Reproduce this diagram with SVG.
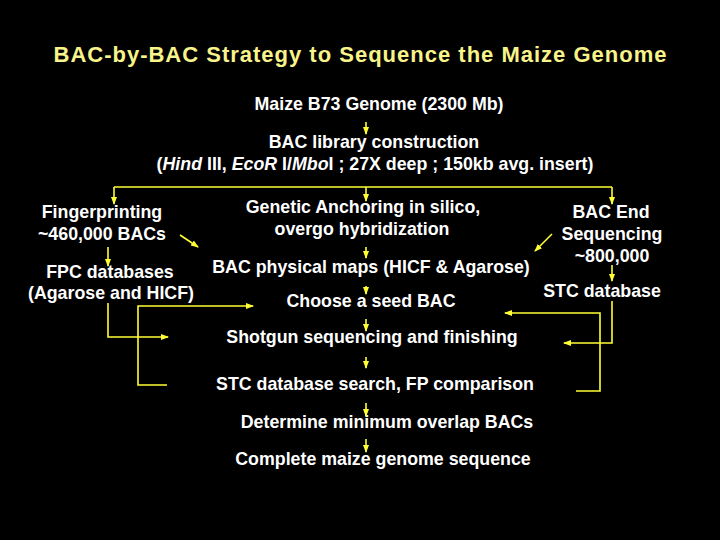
<svg xmlns="http://www.w3.org/2000/svg" width="720" height="540" viewBox="0 0 720 540">
<style>
.t{font-family:"Liberation Sans",Arial,sans-serif;font-weight:bold;font-size:17.8px;fill:#ffffff;text-anchor:middle}
.title{font-family:"Liberation Sans",Arial,sans-serif;font-weight:bold;font-size:22px;fill:#f8f48a;text-anchor:middle}
.c{stroke:#ffff33;stroke-width:1.6;fill:none}
.a{marker-end:url(#ah)}
</style>
<defs>
<marker id="ah" markerWidth="8" markerHeight="8" refX="7" refY="4" orient="auto" markerUnits="userSpaceOnUse">
<path d="M0,1 L8,4 L0,7 Z" fill="#ffff33"/>
</marker>
</defs>
<rect width="720" height="540" fill="#000"/>
<text class="title" x="360" y="62" textLength="613" lengthAdjust="spacing">BAC-by-BAC Strategy to Sequence the Maize Genome</text>

<g id="genome"><text class="t" x="379" y="110">Maize B73 Genome (2300 Mb)</text></g>
<g id="library"><text class="t" x="374" y="148">BAC library construction</text>
<text class="t" x="375" y="170">(<tspan font-style="italic">Hind</tspan> III, <tspan font-style="italic">Eco</tspan><tspan font-style="italic">R</tspan> I/<tspan font-style="italic">Mbo</tspan>I ; 27X deep ; 150kb avg. insert)</text></g>
<g id="fingerprinting"><text class="t" x="102" y="218">Fingerprinting</text><text class="t" x="102" y="240">~460,000 BACs</text></g>
<g id="fpc"><text class="t" x="110" y="278">FPC databases</text><text class="t" x="111" y="299">(Agarose and HICF)</text></g>
<g id="anchoring"><text class="t" x="363" y="213">Genetic Anchoring in silico,</text><text class="t" x="362" y="235">overgo hybridization</text></g>
<g id="physmaps"><text class="t" x="371" y="273">BAC physical maps (HICF &amp; Agarose)</text></g>
<g id="seed"><text class="t" x="371" y="307">Choose a seed BAC</text></g>
<g id="shotgun"><text class="t" x="372" y="343">Shotgun sequencing and finishing</text></g>
<g id="search"><text class="t" x="375" y="390">STC database search, FP comparison</text></g>
<g id="overlap"><text class="t" x="387" y="428">Determine minimum overlap BACs</text></g>
<g id="complete"><text class="t" x="383" y="465">Complete maize genome sequence</text></g>
<g id="bacend"><text class="t" x="611" y="218">BAC End</text><text class="t" x="612" y="240">Sequencing</text><text class="t" x="612" y="262">~800,000</text></g>
<g id="stcdb"><text class="t" x="602" y="297">STC database</text></g>

<g id="connectors">
<path class="c a" d="M366,122 V134"/>
<path class="c" d="M114,187 H612"/>
<path class="c a" d="M114,187 V204"/>
<path class="c a" d="M366,187 V201"/>
<path class="c a" d="M612,187 V204"/>
<path class="c a" d="M180,235 L198,247"/>
<path class="c a" d="M552,234 L535,251"/>
<path class="c a" d="M108,247 V266"/>
<path class="c a" d="M366,247 V258"/>
<path class="c a" d="M366,286 V294"/>
<path class="c a" d="M612,265 V281"/>
<path class="c a" d="M366,319 V331"/>
<path class="c a" d="M366,357 V368"/>
<path class="c a" d="M366,403 V416"/>
<path class="c a" d="M366,439 V452"/>
<path class="c a" d="M108,303 V337 H168"/>
<path class="c a" d="M167,385 H138 V306 H253"/>
<path class="c a" d="M612,301 V343 H564"/>
<path class="c a" d="M576,391 H600 V313 H505"/>
</g>
</svg>
